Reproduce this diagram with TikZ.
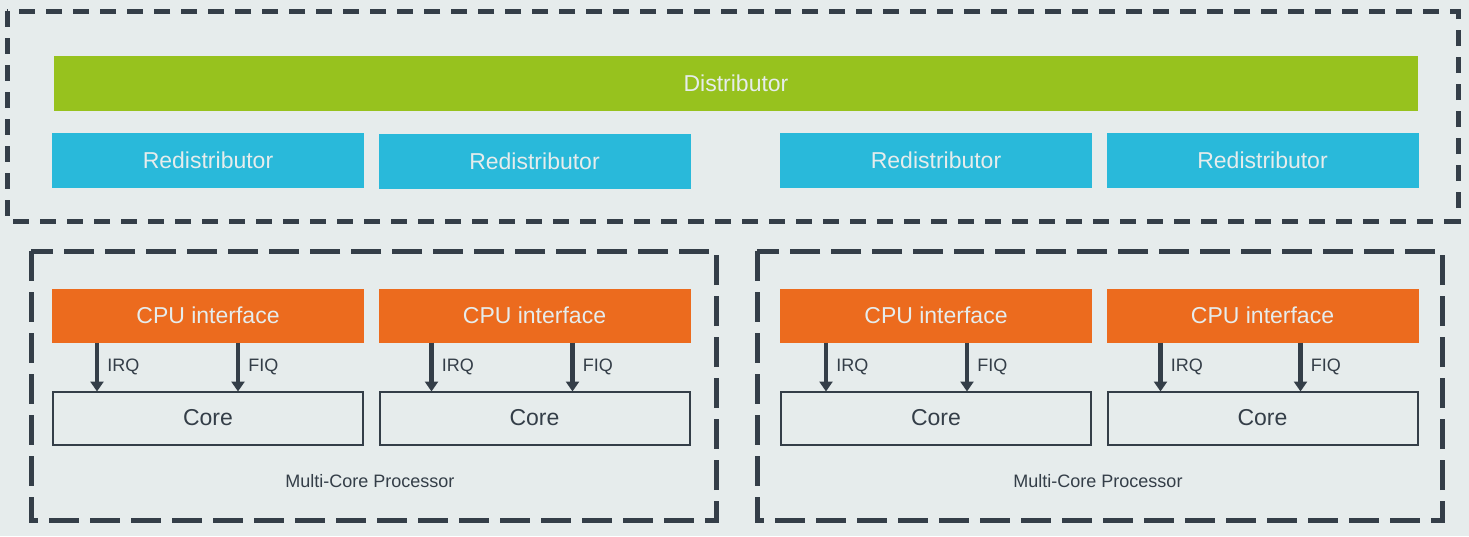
\documentclass[tikz,border=0pt]{standalone}
\usepackage{fontspec}
\setmainfont{Liberation Sans}
\usetikzlibrary{positioning, arrows.meta, calc}
\definecolor{gicbg}{HTML}{E6ECEC}
\definecolor{gicgreen}{HTML}{97C21E}
\definecolor{giccyan}{HTML}{29B9DA}
\definecolor{gicorange}{HTML}{EC6B1E}
\definecolor{gicdark}{HTML}{343E48}

\begin{document}
\begin{tikzpicture}
[x=1pt, y=-1pt,
 blk/.style={rectangle, inner sep=0pt, outer sep=0pt, minimum width=312pt, minimum height=55pt, text=gicbg, font=\fontsize{23}{27}\selectfont},
 dist/.style={blk, fill=gicgreen, minimum width=1364pt},
 redist/.style={blk, fill=giccyan},
 cpuif/.style={blk, fill=gicorange, minimum height=54pt},
 core/.style={blk, draw=gicdark, line width=2pt, text=gicdark, minimum width=310pt, minimum height=53pt},
 frame/.style={draw=gicdark, line width=5pt, dash pattern=on 30pt off 11pt},
 sig/.style={draw=gicdark, line width=4.5pt, arrows={-{Triangle[width=13pt, length=10pt]}}},
 lbl/.style={midway, right, inner sep=0pt, xshift=8pt, text=gicdark, font=\fontsize{18}{21}\selectfont},
 note/.style={text=gicdark, font=\fontsize{18}{21}\selectfont}]

\fill[gicbg] (0,0) rectangle (1469,536);
\useasboundingbox (0,0) rectangle (1469,536);

% GIC frame and groups
\draw[frame, dash pattern=on 16pt off 11pt] (7,11) rectangle (1458,221);
\draw[frame] (31,251) rectangle (716,520);
\draw[frame] (757,251) rectangle (1442,520);

% distributor and redistributors
\node[dist] (dist) at (736,83.5) {Distributor};
\node[redist] (red1) at (208,160.5) {Redistributor};
\node[redist] (red2) at (534.5,161) {Redistributor};
\node[redist] (red3) at (936,160.5) {Redistributor};
\node[redist] (red4) at (1262.5,160) {Redistributor};

% cpu interfaces and cores
\node[cpuif] (cpu1) at (208,315.5) {CPU interface};
\node[cpuif] (cpu2) at (534.5,315.5) {CPU interface};
\node[cpuif] (cpu3) at (936,315.5) {CPU interface};
\node[cpuif] (cpu4) at (1262.5,315.5) {CPU interface};
\node[core] (core1) [below=49pt of cpu1] {Core};
\node[core] (core2) [below=49pt of cpu2] {Core};
\node[core] (core3) [below=49pt of cpu3] {Core};
\node[core] (core4) [below=49pt of cpu4] {Core};

\node[note] (mcp1) at (370,481) {Multi-Core Processor};
\node[note] (mcp2) at (1098,481) {Multi-Core Processor};

  \draw[sig] ([xshift=45pt]cpu1.south west) -- ([xshift=45pt]cpu1.south west |- core1.north) node[lbl] {IRQ};
  \draw[sig] ([xshift=186pt]cpu1.south west) -- ([xshift=186pt]cpu1.south west |- core1.north) node[lbl] {FIQ};
  \draw[sig] ([xshift=53pt]cpu2.south west) -- ([xshift=53pt]cpu2.south west |- core2.north) node[lbl] {IRQ};
  \draw[sig] ([xshift=194pt]cpu2.south west) -- ([xshift=194pt]cpu2.south west |- core2.north) node[lbl] {FIQ};
  \draw[sig] ([xshift=46pt]cpu3.south west) -- ([xshift=46pt]cpu3.south west |- core3.north) node[lbl] {IRQ};
  \draw[sig] ([xshift=187pt]cpu3.south west) -- ([xshift=187pt]cpu3.south west |- core3.north) node[lbl] {FIQ};
  \draw[sig] ([xshift=54pt]cpu4.south west) -- ([xshift=54pt]cpu4.south west |- core4.north) node[lbl] {IRQ};
  \draw[sig] ([xshift=194pt]cpu4.south west) -- ([xshift=194pt]cpu4.south west |- core4.north) node[lbl] {FIQ};

\end{tikzpicture}
\end{document}
